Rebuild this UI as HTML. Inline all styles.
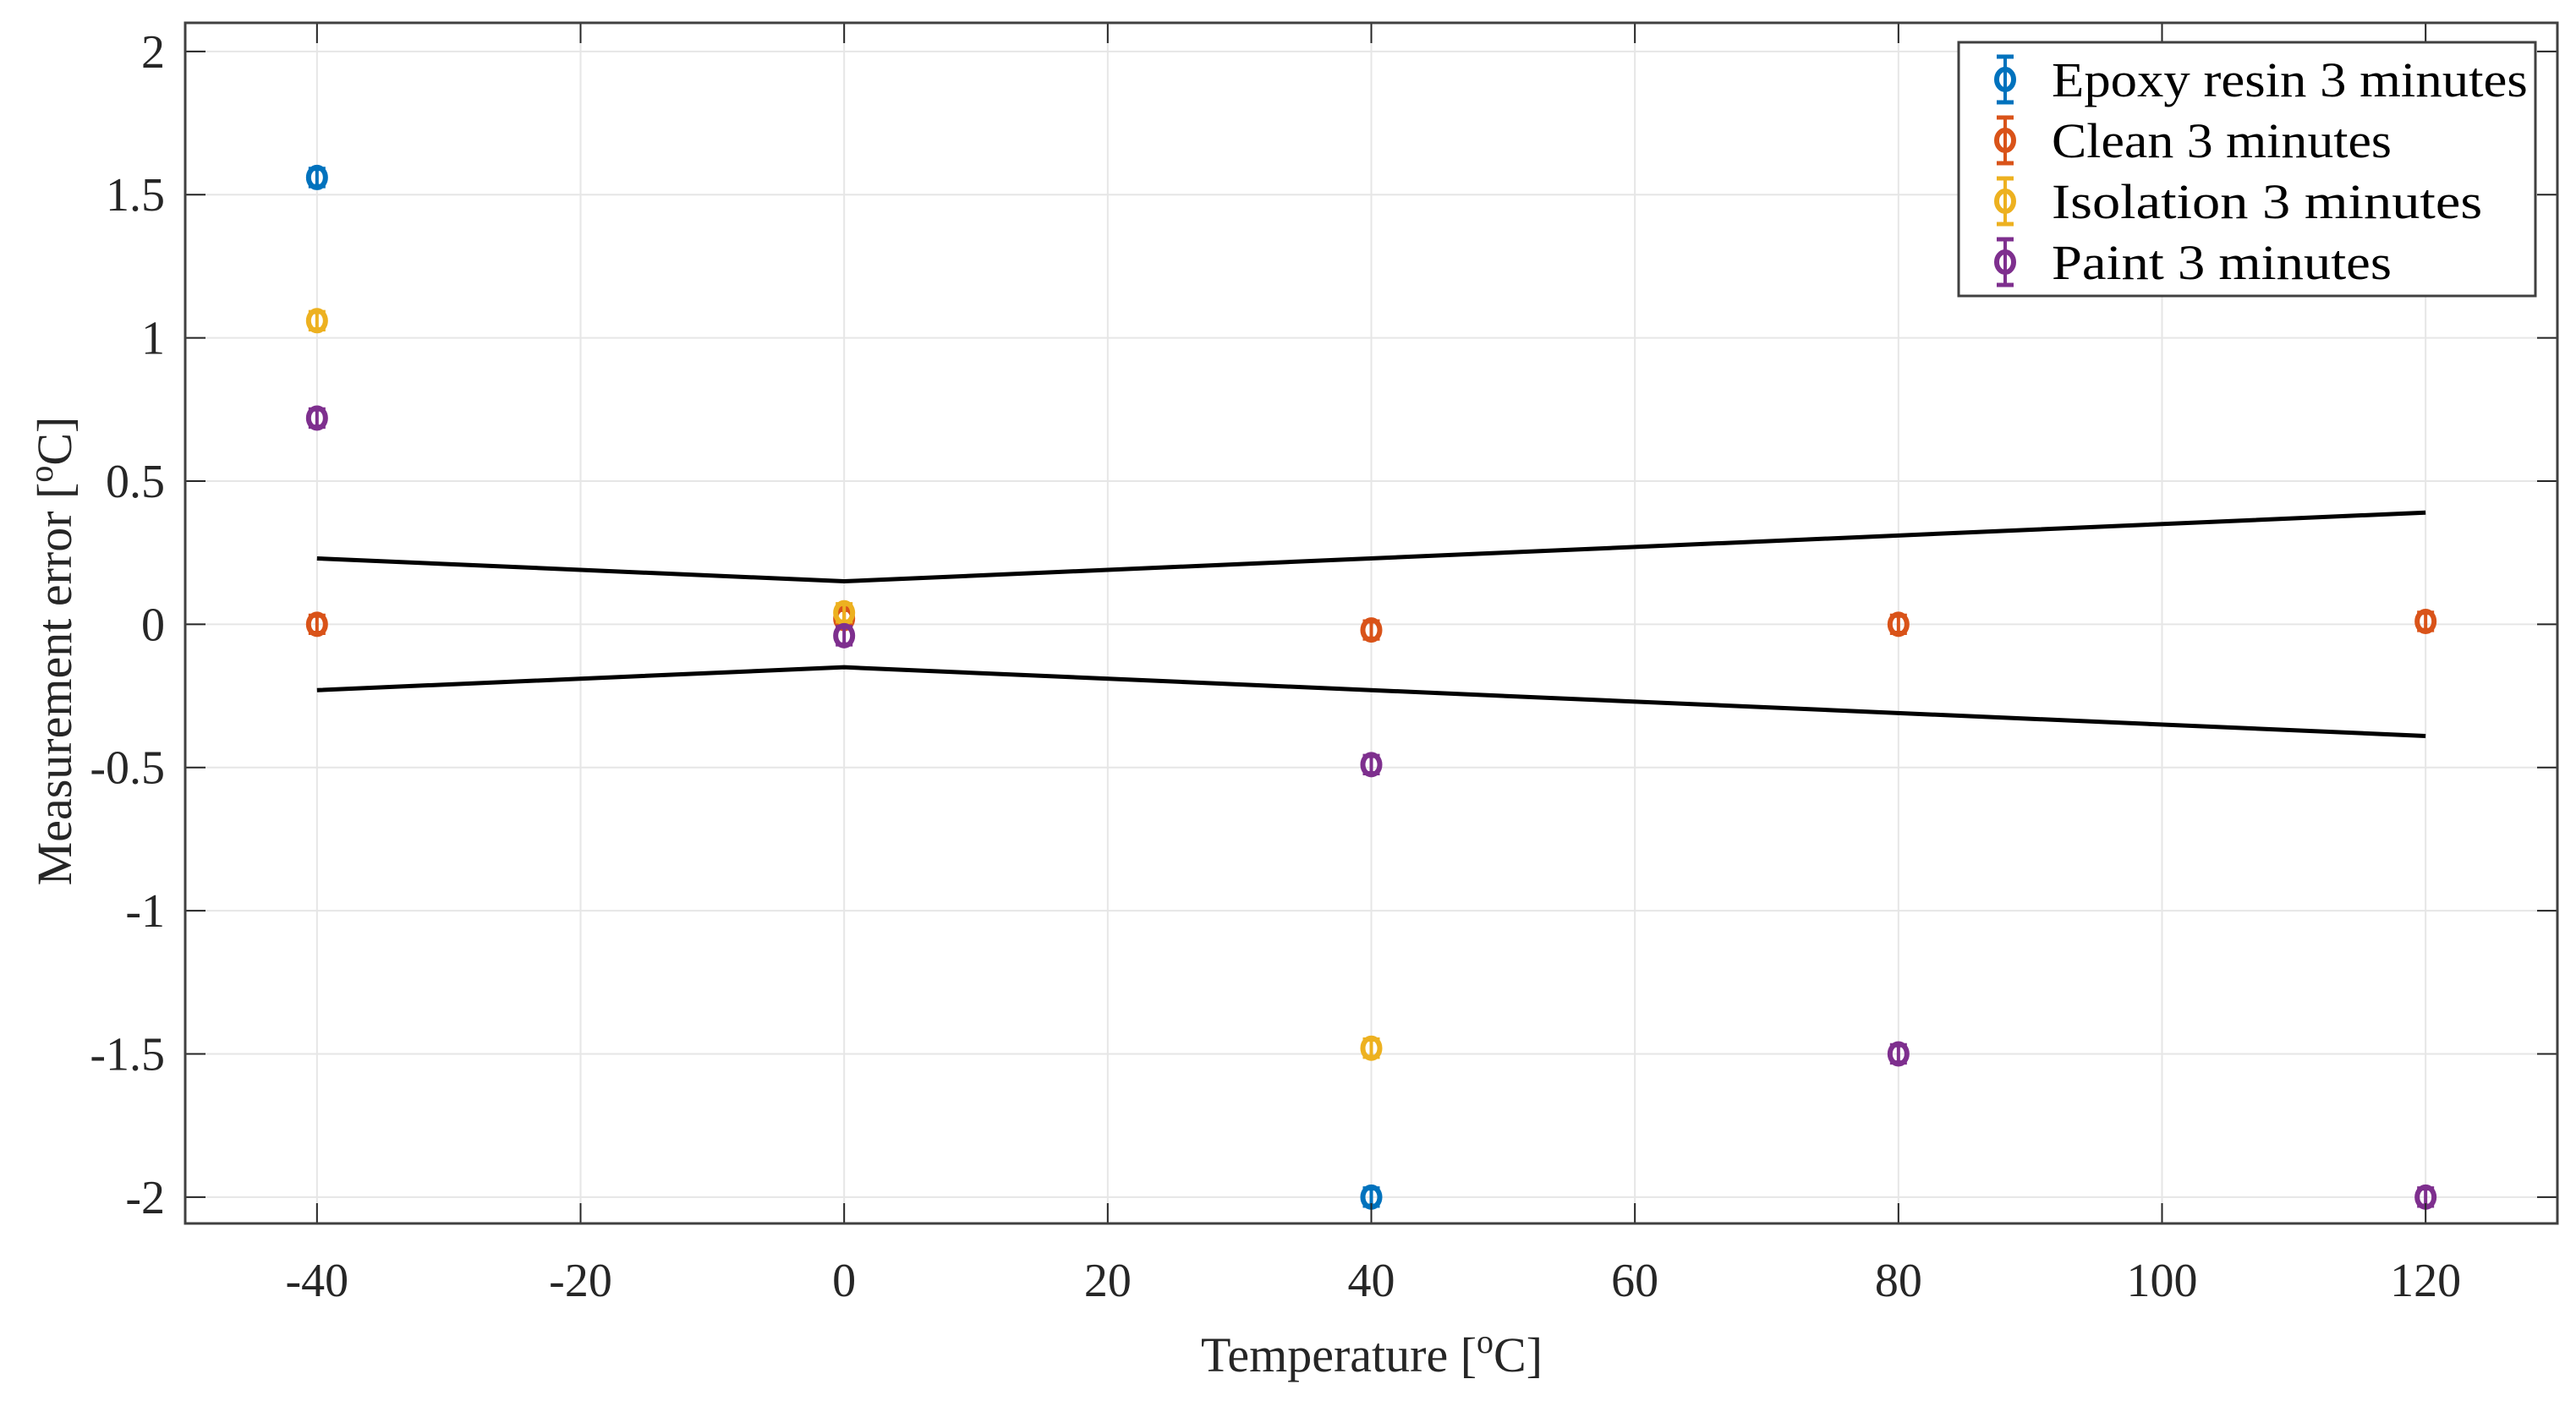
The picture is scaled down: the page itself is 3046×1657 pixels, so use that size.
<!DOCTYPE html>
<html><head><meta charset="utf-8"><style>
body{margin:0;background:#fff}
svg{display:block;font-family:"Liberation Serif",serif}
</style></head><body>
<svg id="chart" width="3046" height="1657" viewBox="0 0 3046 1657" xmlns="http://www.w3.org/2000/svg">
<g id="grid"></g>
<g id="lines"></g>
<g id="marks"></g>
<g id="axes"></g>
<text x="1622" y="1622" font-size="58" text-anchor="middle" fill="#262626">Temperature [<tspan font-size="40" dy="-22">o</tspan><tspan dy="22">C]</tspan></text>
<text transform="translate(84,770) rotate(-90)" font-size="58" text-anchor="middle" fill="#262626">Measurement error [<tspan font-size="40" dy="-22">o</tspan><tspan dy="22">C]</tspan></text>
<g id="legend"></g>
</svg>
<script>
const xTicks=[-40,-20,0,20,40,60,80,100,120];
const yTicks=[-2,-1.5,-1,-0.5,0,0.5,1,1.5,2];
const yTickLabels=["-2","-1.5","-1","-0.5","0","0.5","1","1.5","2"];
const seriesNames=["Epoxy resin 3 minutes","Clean 3 minutes","Isolation 3 minutes","Paint 3 minutes"];
const seriesColors=["#0072BD","#D95319","#EDB120","#7E2F8E"];
const epoxyX=[-40,40];
const epoxyY=[1.56,-2.0];
const cleanX=[-40,0,40,80,120];
const cleanY=[0,0.02,-0.02,0,0.01];
const isoX=[-40,0,40];
const isoY=[1.06,0.04,-1.48];
const paintX=[-40,0,40,80,120];
const paintY=[0.72,-0.04,-0.49,-1.5,-2.0];
const errHalf=0.03;
const tolX=[-40,0,120];
const tolUpper=[0.23,0.15,0.39];
const tolLower=[-0.23,-0.15,-0.39];

const L=219,R=3024,T=27,B=1447,xmin=-50,xmax=130,ymin=-2.092,ymax=2.1;
const sx=v=>L+(v-xmin)/(xmax-xmin)*(R-L);
const sy=v=>B-(v-ymin)/(ymax-ymin)*(B-T);
const NS="http://www.w3.org/2000/svg";
function mk(tag,parent,attrs){const e=document.createElementNS(NS,tag);for(const k in attrs)e.setAttribute(k,attrs[k]);parent.appendChild(e);return e;}
const grid=document.getElementById('grid'),axes=document.getElementById('axes'),marks=document.getElementById('marks'),lines=document.getElementById('lines'),legend=document.getElementById('legend');

xTicks.forEach(v=>{
  const g=mk('line',grid,{x1:sx(v),x2:sx(v),y1:T,y2:B,stroke:'#e6e6e6','stroke-width':2});
  
  
  const t1=mk('line',axes,{x1:sx(v),x2:sx(v),y1:B,y2:B-24,stroke:'#262626','stroke-width':2});
  
  
  const t2=mk('line',axes,{x1:sx(v),x2:sx(v),y1:T,y2:T+24,stroke:'#262626','stroke-width':2});
  
  
  const lb=mk('text',axes,{x:sx(v),y:B+86,'font-size':56,'text-anchor':'middle',fill:'#262626'});
  lb.textContent=String(v);
  
  
});
yTicks.forEach((v,i)=>{
  const g=mk('line',grid,{x1:L,x2:R,y1:sy(v),y2:sy(v),stroke:'#e6e6e6','stroke-width':2});
  
  
  const t1=mk('line',axes,{x1:L,x2:L+24,y1:sy(v),y2:sy(v),stroke:'#262626','stroke-width':2});
  
  
  const t2=mk('line',axes,{x1:R,x2:R-24,y1:sy(v),y2:sy(v),stroke:'#262626','stroke-width':2});
  
  
  const lb=mk('text',axes,{x:L-24,y:sy(v)+19,'font-size':56,'text-anchor':'end',fill:'#262626'});
  lb.textContent=yTickLabels[i];
  
  
});
const fr=mk('rect',axes,{x:L,y:T,width:R-L,height:B-T,fill:'none',stroke:'#404040','stroke-width':3});



[tolUpper,tolLower].forEach((arr,k)=>{
  const p=mk('polyline',lines,{points:tolX.map((x,i)=>sx(x)+','+sy(arr[i])).join(' '),fill:'none',stroke:'#000','stroke-width':5});
  
  
});

function errPoint(parent,cx,cy,col,h){
  mk('line',parent,{x1:cx,x2:cx,y1:cy-h,y2:cy+h,stroke:col,'stroke-width':4});
  mk('line',parent,{x1:cx-10,x2:cx+10,y1:cy-h,y2:cy-h,stroke:col,'stroke-width':5});
  mk('line',parent,{x1:cx-10,x2:cx+10,y1:cy+h,y2:cy+h,stroke:col,'stroke-width':5});
  mk('ellipse',parent,{cx:cx,cy:cy,rx:10,ry:12,fill:'none',stroke:col,'stroke-width':6});
}
const allX=[epoxyX,cleanX,isoX,paintX],allY=[epoxyY,cleanY,isoY,paintY];
allX.forEach((xs,s)=>{
  xs.forEach((x,i)=>{
    const g=mk('g',marks,{});
    
    
    errPoint(g,sx(x),sy(allY[s][i]),seriesColors[s],Math.abs(sy(errHalf)-sy(0)));
  });
});

const bx=mk('rect',legend,{x:2316,y:50,width:682,height:300,fill:'#fff',stroke:'#404040','stroke-width':3});


seriesNames.forEach((n,i)=>{
  const g=mk('g',legend,{});
  
  
  const cy=94+i*72;
  errPoint(g,2371,cy,seriesColors[i],27);
  const t=mk('text',g,{x:2426,y:cy+20,'font-size':58,fill:'#000',textLength:n.length*26.8,lengthAdjust:'spacingAndGlyphs'});
  t.textContent=n;
});
</script>
</body></html>
